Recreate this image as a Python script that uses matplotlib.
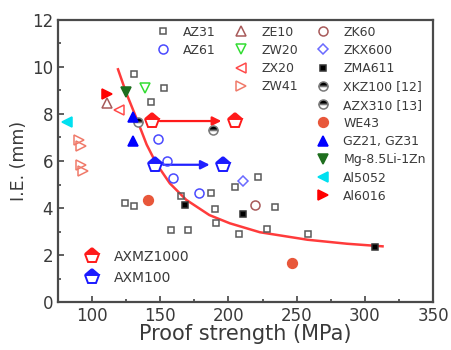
import matplotlib
matplotlib.use('Agg')
import matplotlib.pyplot as plt

plt.rcParams['font.family'] = 'DejaVu Sans'
plt.rcParams['text.color'] = '#3a3a3a'
plt.rcParams['axes.labelcolor'] = '#3a3a3a'
plt.rcParams['xtick.labelcolor'] = '#3a3a3a'
plt.rcParams['ytick.labelcolor'] = '#3a3a3a'

# proof strength (MPa), I.E. (mm)
az31_x = [131, 153, 143, 124, 131, 165, 187, 205, 222, 190, 191, 158, 170, 208, 234, 228, 258]
az31_y = [9.7, 9.1, 8.5, 4.2, 4.1, 4.5, 4.65, 4.9, 5.3, 3.95, 3.35, 3.05, 3.05, 2.9, 4.05, 3.1, 2.9]
az61_x = [148.6, 154.7, 159.5, 178.6]
az61_y = [6.93, 5.98, 5.28, 4.64]
ze10_x = [110.7]
ze10_y = [8.46]
zw20_x = [138.8]
zw20_y = [9.1]
zx20_x = [120]
zx20_y = [8.18]
zw41_x = [90.6, 91.6, 91.6, 93.1]
zw41_y = [6.9, 6.65, 5.84, 5.56]
zk60_x = [219.4]
zk60_y = [4.14]
zkx600_x = [210.4]
zkx600_y = [5.13]
zma611_x = [168.1, 210.9, 307.4]
zma611_y = [4.14, 3.76, 2.34]
xkz100_x = [188.9]
xkz100_y = [7.33]
azx310_x = [133.9]
azx310_y = [7.68]
we43_x = [141.2, 246.3]
we43_y = [4.35, 1.64]
gz_x = [130.2, 130.2]
gz_y = [7.89, 6.83]
mgli_x = [124.9]
mgli_y = [8.93]
al5052_x = [81.8]
al5052_y = [7.64]
al6016_x = [110.7]
al6016_y = [8.84]
axmz1000_x = [143.7, 204.8]
axmz1000_y = [7.70, 7.70]
axm100_x = [146.1, 196.2]
axm100_y = [5.84, 5.84]

# fitted trend line
fit_x = [119, 125, 133, 140, 147, 157, 169, 186, 201, 223, 258, 287, 313]
fit_y = [9.9, 8.9, 7.75, 6.7, 5.9, 5.05, 4.35, 3.7, 3.35, 2.97, 2.65, 2.48, 2.37]

fig = plt.figure(figsize=(4.51, 3.5), dpi=100)
ax = fig.add_axes([0.1286, 0.137, 0.8315, 0.806])

ax.plot(fit_x, fit_y, color='#ff3b3b', lw=1.8, zorder=2)

# arrows between the two states
for xs, ys, c in [(axmz1000_x, axmz1000_y, '#ff1a1a'), (axm100_x, axm100_y, '#2020ff')]:
    ax.annotate('', xy=(xs[1] - 10, ys[1]), xytext=(xs[0] + 6, ys[0]),
                arrowprops=dict(arrowstyle='-|>', color=c, lw=1.6, mutation_scale=13,
                                shrinkA=0, shrinkB=0), zorder=3)

def pts(x, y, label, **kw):
    kw.setdefault('mew', 1.1)
    h, = ax.plot(x, y, linestyle='none', label=label, zorder=4, **kw)
    return h

h_az31 = pts(az31_x, az31_y, 'AZ31', marker='s', ms=5, mfc='none', mec='#5a5a5a')
h_az61 = pts(az61_x, az61_y, 'AZ61', marker='o', ms=6.5, mfc='none', mec='#4a4aff')
h_ze10 = pts(ze10_x, ze10_y, 'ZE10', marker='^', ms=7, mfc='none', mec='#a85a5a')
h_zw20 = pts(zw20_x, zw20_y, 'ZW20', marker='v', ms=7, mfc='none', mec='#33dd33')
h_zx20 = pts(zx20_x, zx20_y, 'ZX20', marker='<', ms=7, mfc='none', mec='#ff4a4a')
h_zw41 = pts(zw41_x, zw41_y, 'ZW41', marker='>', ms=7, mfc='none', mec='#f07a6a')
h_zk60 = pts(zk60_x, zk60_y, 'ZK60', marker='o', ms=6.5, mfc='none', mec='#a85a5a')
h_zkx600 = pts(zkx600_x, zkx600_y, 'ZKX600', marker='D', ms=5.5, mfc='none', mec='#6a6aff')
h_zma611 = pts(zma611_x, zma611_y, 'ZMA611', marker='s', ms=5, mfc='black', mec='#333333')
h_xkz100 = pts(xkz100_x, xkz100_y, 'XKZ100 [12]', marker='o', ms=6.5, fillstyle='top',
               mfc='black', mfcalt='white', mec='#7a7a7a')
h_azx310 = pts(azx310_x, azx310_y, 'AZX310 [13]', marker='o', ms=6.5, fillstyle='top',
               mfc='black', mfcalt='white', mec='#7a7a7a')
h_we43 = pts(we43_x, we43_y, 'WE43', marker='o', ms=7, mfc='#e8573a', mec='#e8573a')
h_gz = pts(gz_x, gz_y, 'GZ21, GZ31', marker='^', ms=7, mfc='#0000ff', mec='#0000ff')
h_mgli = pts(mgli_x, mgli_y, 'Mg-8.5Li-1Zn', marker='v', ms=7, mfc='#1e6e1e', mec='#1e6e1e')
h_al5052 = pts(al5052_x, al5052_y, 'Al5052', marker='<', ms=7, mfc='#00e0f0', mec='#00e0f0')
h_al6016 = pts(al6016_x, al6016_y, 'Al6016', marker='>', ms=7, mfc='#ff0000', mec='#ff0000')
h_axmz = pts(axmz1000_x, axmz1000_y, 'AXMZ1000', marker='p', ms=11, fillstyle='top',
             mfc='#ff1a1a', mfcalt='white', mec='#ff1a1a', mew=1.4)
h_axm = pts(axm100_x, axm100_y, 'AXM100', marker='p', ms=11, fillstyle='top',
            mfc='#1a1aff', mfcalt='white', mec='#1a1aff', mew=1.4)

leg_kw = dict(frameon=False, fontsize=9, borderpad=0, borderaxespad=0, handlelength=1.0,
              handletextpad=1.1, labelspacing=0.42, loc='upper left')
groups = [([h_az31, h_az61], 0.264),
          ([h_ze10, h_zw20, h_zx20, h_zw41], 0.472),
          ([h_zk60, h_zkx600, h_zma611, h_xkz100, h_azx310, h_we43, h_gz, h_mgli,
            h_al5052, h_al6016], 0.691)]
for hs, x0 in groups:
    lg = ax.legend(handles=hs, bbox_to_anchor=(x0, 0.98), **leg_kw)
    ax.add_artist(lg)
lg = ax.legend(handles=[h_axmz, h_axm], bbox_to_anchor=(0.072, 0.185),
               **dict(leg_kw, fontsize=10, labelspacing=0.5))

ax.set_xlim(75, 350)
ax.set_ylim(0, 12)
ax.set_xticks([100, 150, 200, 250, 300, 350])
ax.set_xticks([125, 175, 225, 275, 325], minor=True)
ax.set_yticks([0, 2, 4, 6, 8, 10, 12])
ax.set_yticks([1, 3, 5, 7, 9, 11], minor=True)
ax.tick_params(which='both', direction='in', top=False, right=False, color='#444444', width=1.2)
ax.tick_params(which='major', length=4, labelsize=12)
ax.tick_params(which='minor', length=2.5)
for s in ax.spines.values():
    s.set_linewidth(1.6)
    s.set_color('#4a4a4a')
ax.set_xlabel('Proof strength (MPa)', fontsize=15, labelpad=-1)
ax.set_ylabel('I.E. (mm)', fontsize=12.5, labelpad=3)

fig.savefig('out.png', dpi=100)
